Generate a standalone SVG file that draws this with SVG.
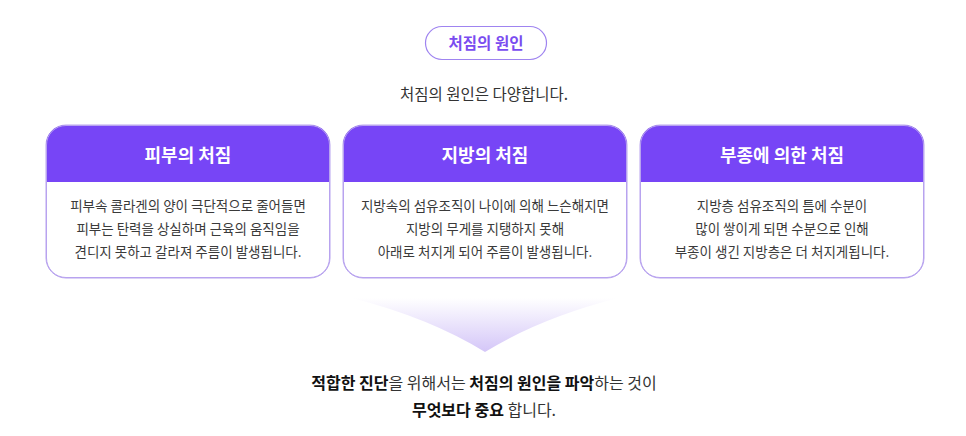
<svg xmlns="http://www.w3.org/2000/svg" width="966" height="436" viewBox="0 0 966 436">
<defs>
<style>
text{font-family:"Noto Sans CJK KR","Noto Sans",sans-serif;text-anchor:middle}
.card{fill:#fff;stroke:#b8a3ef;stroke-width:1}
.head{fill:#7745f6}
.title{font-size:18px;font-weight:700;fill:#fff}
.body{font-size:13.5px;fill:#3a3a3a}
.sub{font-size:15.5px;fill:#333}
.bt{font-size:16px;fill:#333}
.b{font-weight:700;fill:#111}
</style>
<linearGradient id="ag" x1="0" y1="0" x2="0" y2="1">
<stop offset="0" stop-color="#ffffff"/>
<stop offset="1" stop-color="#d4c6f8"/>
</linearGradient>
<clipPath id="c1"><rect x="46" y="125" width="284" height="153" rx="20"/></clipPath>
<clipPath id="c2"><rect x="343" y="125" width="284" height="153" rx="20"/></clipPath>
<clipPath id="c3"><rect x="640" y="125" width="284" height="153" rx="20"/></clipPath>
</defs>
<rect width="966" height="436" fill="#fff"/>

<g id="pill">
<rect x="425.5" y="26.5" width="121" height="33" rx="16.5" fill="#fff" stroke="#9f84f0" stroke-width="1.2"/>
<text x="486" y="48.6" style="font-size:15.5px;font-weight:700;fill:#7a4cf0">처짐의 원인</text>
</g>

<g id="subtitle">
<text x="484" y="99.6" class="sub">처짐의 원인은 다양합니다.</text>
</g>

<g id="card1">
<rect x="46" y="125" width="284" height="153" rx="20" class="card"/>
<rect x="46" y="125" width="284" height="57" class="head" clip-path="url(#c1)"/>
<rect x="46.5" y="125.5" width="283" height="152" rx="19.5" fill="none" stroke="#b8a3ef"/>
<text x="188" y="161.5" class="title">피부의 처짐</text>
<text x="188" y="211" class="body">피부속 콜라겐의 양이 극단적으로 줄어들면</text>
<text x="188" y="234" class="body">피부는 탄력을 상실하며 근육의 움직임을</text>
<text x="188" y="257" class="body">견디지 못하고 갈라져 주름이 발생됩니다.</text>
</g>

<g id="card2">
<rect x="343" y="125" width="284" height="153" rx="20" class="card"/>
<rect x="343" y="125" width="284" height="57" class="head" clip-path="url(#c2)"/>
<rect x="343.5" y="125.5" width="283" height="152" rx="19.5" fill="none" stroke="#b8a3ef"/>
<text x="485" y="161.5" class="title">지방의 처짐</text>
<text x="485" y="211" class="body">지방속의 섬유조직이 나이에 의해 느슨해지면</text>
<text x="485" y="234" class="body">지방의 무게를 지탱하지 못해</text>
<text x="485" y="257" class="body">아래로 처지게 되어 주름이 발생됩니다.</text>
</g>

<g id="card3">
<rect x="640" y="125" width="284" height="153" rx="20" class="card"/>
<rect x="640" y="125" width="284" height="57" class="head" clip-path="url(#c3)"/>
<rect x="640.5" y="125.5" width="283" height="152" rx="19.5" fill="none" stroke="#b8a3ef"/>
<text x="782" y="161.5" class="title">부종에 의한 처짐</text>
<text x="782" y="211" class="body">지방층 섬유조직의 틈에 수분이</text>
<text x="782" y="234" class="body">많이 쌓이게 되면 수분으로 인해</text>
<text x="782" y="257" class="body">부종이 생긴 지방층은 더 처지게됩니다.</text>
</g>

<g id="connectors">
<path d="M352,298 L618,298 Q540,318 485,352 Q430,318 352,298 Z" fill="url(#ag)"/>
</g>

<g id="conclusion">
<text x="484" y="389" class="bt"><tspan class="b">적합한 진단</tspan>을 위해서는 <tspan class="b">처짐의 원인을 파악</tspan>하는 것이</text>
<text x="484" y="416" class="bt"><tspan class="b">무엇보다 중요</tspan> 합니다.</text>
</g>
</svg>
